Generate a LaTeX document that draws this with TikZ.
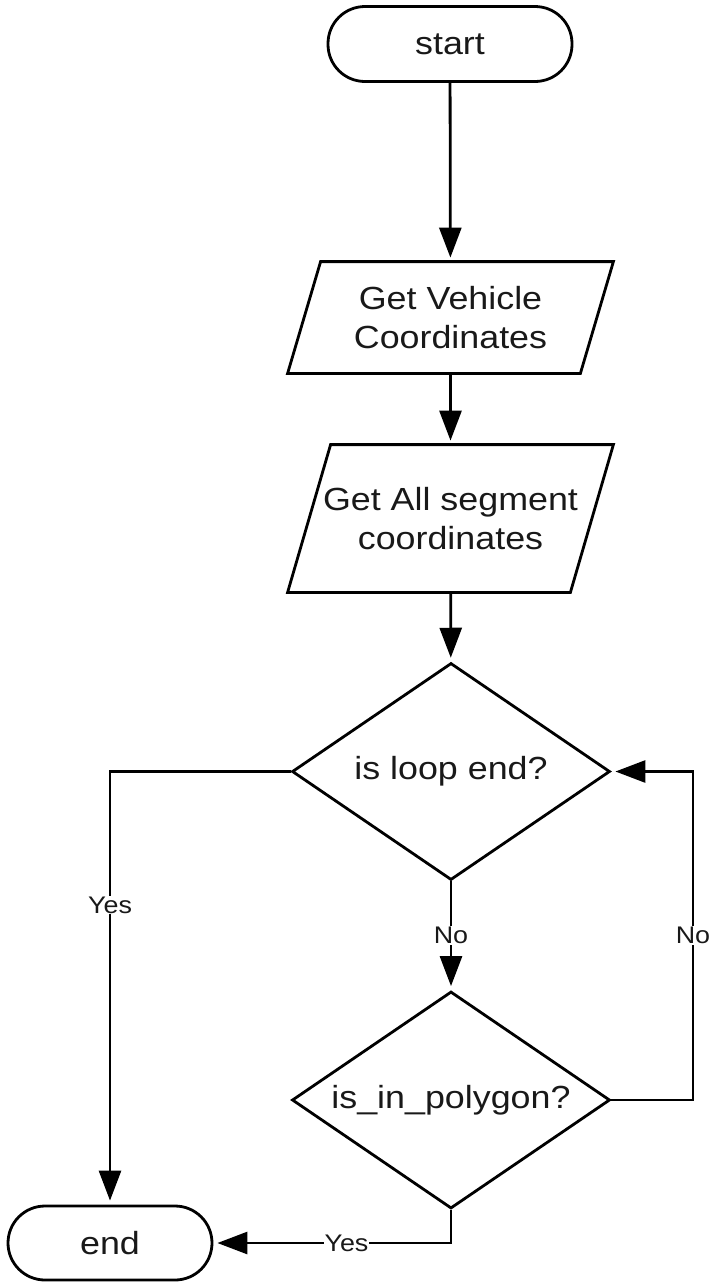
\documentclass[tikz,border=0pt]{standalone}
\usepackage{fontspec}
\setmainfont[FakeStretch=1.12]{Liberation Sans}
\usetikzlibrary{shapes.geometric,arrows.meta}
\begin{document}
\begin{tikzpicture}[x=1pt,y=-1pt,
  line width=2.8pt,
  txt/.style={font=\fontsize{32}{39}\selectfont, align=center, text=black!90},
  term/.style={txt, draw, rectangle, rounded corners=37pt, inner sep=0pt},
  iobox/.style={txt, rectangle, inner sep=0pt},
  decision/.style={txt, draw, diamond, inner sep=0pt, minimum width=318pt, minimum height=217pt},
  arr/.style={-{Triangle[length=30pt,width=22pt]}, shorten >=4pt},
  lbl/.style={fill=white, inner sep=1pt, font=\fontsize{24}{27}\selectfont, text=black!90}
]
\useasboundingbox (0,0) rectangle (711,1286);

\node[term, minimum width=244pt, minimum height=75pt] (start) at (450,44) {start};
\node[iobox, minimum width=323pt, minimum height=109pt] (p1) at (450.5,317.5) {Get Vehicle\\Coordinates};
\draw (p1.south west) -- ([xshift=33pt]p1.north west) -- (p1.north east) -- ([xshift=-33pt]p1.south east) -- cycle;
\node[iobox, minimum width=323pt, minimum height=145pt] (p2) at (450.5,518.5) {Get All segment\\coordinates};
\draw (p2.south west) -- ([xshift=43pt]p2.north west) -- (p2.north east) -- ([xshift=-43pt]p2.south east) -- cycle;
\node[decision] (d1) at (451,771.5) {\makebox[0pt]{is loop end?}};
\node[decision] (d2) at (451,1100) {\makebox[0pt]{is\_in\_polygon?}};
\node[term, minimum width=204pt, minimum height=74pt] (endn) at (110,1243) {end};

\coordinate (r1) at (693,1100);
\coordinate (r2) at (693,771.5);

\draw[arr] (start) -- (p1);
\draw[arr] (p1) -- (p2);
\draw[arr] (p2) -- (d1);
\draw[arr] (d1.south) -- (d2.north);
\draw[arr] (d2.east) -- (r1) -- (r2) -- (d1.east);
\draw[arr] (d1.west) -| (endn.north);
\draw[arr] (d2.south) |- (endn.east);

\path (d1.south) -- node[lbl]{No} (d2.north);
\path (r1) -- node[lbl]{No} (r2);
\path (d1.west) -| node[lbl, pos=0.654]{Yes} (endn.north);
\path (d2.south) |- node[lbl, pos=0.72]{Yes} (endn.east);
\end{tikzpicture}
\end{document}
